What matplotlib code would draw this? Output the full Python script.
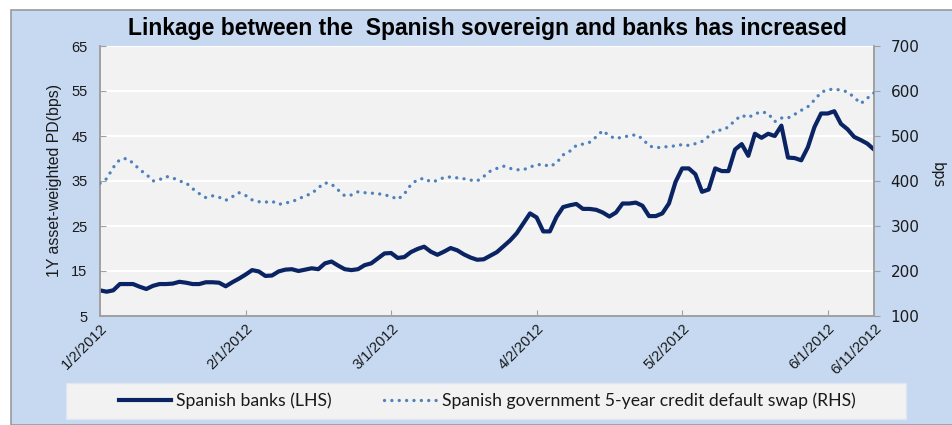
import numpy as np
import matplotlib
matplotlib.use("Agg")
import matplotlib.pyplot as plt
from matplotlib.patches import Rectangle
from matplotlib.lines import Line2D

# ---------------- data ----------------
banks_lhs = [10.7, 10.4, 10.7, 12.1, 12.1, 12.1, 11.5, 11.0, 11.7, 12.1,
             12.1, 12.2, 12.6, 12.4, 12.1, 12.1, 12.5, 12.5, 12.4, 11.6,
             12.5, 13.3, 14.2, 15.2, 14.9, 13.9, 14.0, 14.9, 15.3, 15.4,
             15.0, 15.3, 15.6, 15.4, 16.7, 17.1, 16.2, 15.4, 15.2, 15.4,
             16.3, 16.7, 17.8, 18.9, 19.0, 17.9, 18.1, 19.2, 19.9, 20.4,
             19.3, 18.6, 19.3, 20.1, 19.6, 18.7, 18.0, 17.5, 17.6, 18.4,
             19.2, 20.5, 21.8, 23.4, 25.6, 27.8, 26.9, 23.8, 23.8, 27.0,
             29.2, 29.6, 29.9, 28.8, 28.8, 28.6, 28.0, 27.1, 28.0, 30.0,
             30.0, 30.2, 29.5, 27.2, 27.2, 27.8, 30.0, 34.8, 37.8, 37.8,
             36.5, 32.6, 33.1, 37.8, 37.2, 37.2, 42.0, 43.2, 40.6, 45.5,
             44.6, 45.5, 45.0, 47.3, 40.2, 40.1, 39.6, 42.5, 47.0, 50.0,
             50.0, 50.5, 47.7, 46.5, 44.8, 44.1, 43.3, 42.0]

cds_rhs = [395, 405, 430, 448, 450, 440, 425, 415, 400, 403,
           410, 407, 400, 396, 383, 372, 363, 367, 364, 357,
           365, 374, 368, 358, 354, 353, 355, 348, 351, 354,
           360, 367, 372, 385, 396, 393, 380, 367, 369, 376,
           374, 373, 372, 369, 366, 359, 371, 392, 403, 406,
           398, 401, 408, 409, 407, 405, 402, 400, 410, 422,
           428, 433, 428, 425, 425, 431, 436, 437, 432, 440,
           458, 466, 479, 482, 486, 498, 512, 500, 494, 498,
           500, 503, 494, 478, 474, 475, 477, 478, 481, 479,
           483, 488, 499, 513, 513, 520, 535, 546, 541, 549,
           554, 550, 532, 540, 540, 548, 557, 565, 580, 597,
           603, 604, 602, 598, 586, 572, 584, 596]

tick_index = [0, 22, 44, 66, 88, 110, 117]
tick_labels = ["1/2/2012", "2/1/2012", "3/1/2012", "4/2/2012",
               "5/2/2012", "6/1/2012", "6/11/2012"]

left_ticks = [5, 15, 25, 35, 45, 55, 65]
right_ticks = [100, 200, 300, 400, 500, 600, 700]

title = "Linkage between the  Spanish sovereign and banks has increased"
series_names = ["Spanish banks (LHS)",
                "Spanish government 5-year credit default swap (RHS)"]

# ---------------- style ----------------
W, H = 953, 425
BG = "#C6D9F1"
PLOT_BG = "#F2F2F2"
NAVY = "#0A2463"
DOT = "#4F81BD"
AXC = "#A0A0A0"

fig = plt.figure(figsize=(W / 100, H / 100), dpi=100)
fig.patch.set_facecolor("white")
fig.patches.append(Rectangle((11 / W, 0), 1.0, 1 - 10 / H, transform=fig.transFigure,
                             facecolor=BG, edgecolor="#9A9A9A", linewidth=1.2, zorder=-3))
# legend box
fig.patches.append(Rectangle((66 / W, 1 - 419 / H), (906 - 66) / W, (419 - 383) / H,
                             transform=fig.transFigure, facecolor=PLOT_BG,
                             edgecolor="#DDE6F2", linewidth=1, zorder=-2))

left, right, top, bottom = 100, 874, 46, 316
ax = fig.add_axes([left / W, 1 - bottom / H, (right - left) / W, (bottom - top) / H])
ax.set_facecolor(PLOT_BG)
ax2 = ax.twinx()

x = np.arange(len(banks_lhs))
xc = np.arange(len(cds_rhs))
ax.plot(x, banks_lhs, color=NAVY, linewidth=3.0, solid_joinstyle="round",
        solid_capstyle="round", zorder=3)
ax2.plot(xc, cds_rhs, color=DOT, linewidth=2.4, linestyle=(0, (0.01, 2.2)),
         dash_capstyle="round", zorder=3)

ax.set_xlim(0, len(banks_lhs) - 1)
ax.set_ylim(left_ticks[0], left_ticks[-1])
ax2.set_ylim(right_ticks[0], right_ticks[-1])

ax.set_yticks(left_ticks)
ax2.set_yticks(right_ticks)
ax.set_xticks(tick_index)
ax.set_xticklabels(tick_labels, rotation=45, ha="right", va="top",
                   rotation_mode="anchor", fontsize=10.6, family="Liberation Sans",
                   color="#1a1a1a")
ax.tick_params(axis="x", direction="in", length=4, color=AXC, pad=4)
ax.tick_params(axis="y", direction="in", length=4, color=AXC, pad=9,
               labelsize=10.5, labelcolor="#1a1a1a")
for lab in ax.get_yticklabels():
    lab.set_family("Liberation Sans")
ax2.tick_params(axis="y", direction="out", length=4, color=AXC, pad=8,
                labelsize=11, labelcolor="#1a1a1a")
for lab in ax2.get_yticklabels():
    lab.set_family("DejaVu Sans")

ax.grid(axis="y", color="white", linewidth=1.5, zorder=0)
ax.set_axisbelow(True)
for a in (ax, ax2):
    a.spines["top"].set_visible(False)
    for s in ("left", "bottom", "right"):
        a.spines[s].set_color(AXC)
        a.spines[s].set_linewidth(1.2)

fig.text(487 / W, 1 - 28 / H, title, ha="center", va="center", fontsize=16.5,
         fontweight="bold", family="Liberation Sans", color="black")
fig.text(55 / W, 1 - 180 / H, "1Y asset-weighted PD(bps)", rotation=90,
         ha="center", va="center", fontsize=11.4, family="Liberation Sans",
         color="#1a1a1a")
fig.text(937 / W, 1 - 175 / H, "bps", rotation=-90, ha="center", va="center",
         fontsize=10.5, family="DejaVu Sans", color="#1a1a1a")

handles = [Line2D([0], [0], color=NAVY, linewidth=3.0),
           Line2D([0], [0], color=DOT, linewidth=2.4, linestyle=(0, (0.01, 2.2)),
                  dash_capstyle="round")]
leg = fig.legend(handles, series_names, loc="center",
                 bbox_to_anchor=(487 / W, 1 - 401 / H), ncol=2, frameon=False,
                 prop={"family": "Lato", "size": 12.7}, handlelength=2.95,
                 handletextpad=0.3, columnspacing=3.0)
for t in leg.get_texts():
    t.set_color("#1a1a1a")

fig.savefig("out.png", dpi=100, facecolor=fig.get_facecolor())
